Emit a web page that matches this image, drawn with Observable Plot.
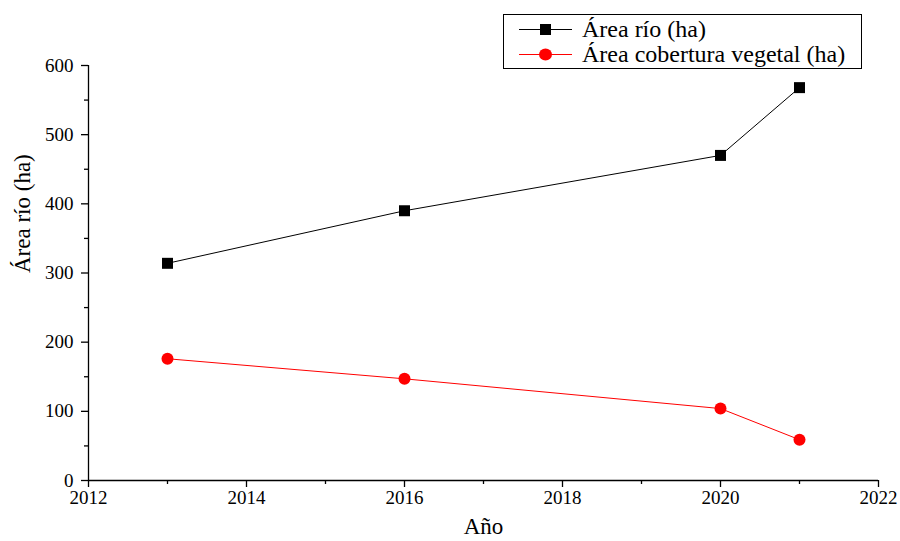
<!DOCTYPE html>
<html><head><meta charset="utf-8">
<script src="https://cdn.jsdelivr.net/npm/d3@7"></script>
<script src="https://cdn.jsdelivr.net/npm/@observablehq/plot@0.6"></script>
<style>
body{margin:0;background:#fff;}
#wrap{position:relative;width:900px;height:541px;font-family:"Liberation Serif","Times New Roman",serif;}
#legend{position:absolute;left:503px;top:14px;width:359px;height:55px;border:1px solid #000;box-sizing:border-box;background:#fff;font-size:24px;color:#000;font-family:"Liberation Serif","Times New Roman",serif;}
#legend .row{position:absolute;left:0;height:25px;display:flex;align-items:center;white-space:nowrap;}
#legend svg{margin-left:15px;margin-right:10px;}
</style></head>
<body>
<div id="wrap"><div id="legend"></div></div>
<script>
const years = [2013, 2016, 2020, 2021];
const rio = [314, 390, 470, 568];
const vegetal = [176, 147, 104, 59];
const seriesNames = ["Área río (ha)", "Área cobertura vegetal (ha)"];
const seriesColors = ["#000000", "#ff0000"];
const xMajor = [2012, 2014, 2016, 2018, 2020, 2022];
const xMinor = [2013, 2015, 2017, 2019, 2021];
const yMajor = [0, 100, 200, 300, 400, 500, 600];
const yMinor = [50, 150, 250, 350, 450, 550];

const dataRio = years.map((y, i) => ({year: y, value: rio[i]}));
const dataVeg = years.map((y, i) => ({year: y, value: vegetal[i]}));
const serif = "Liberation Serif";

const chart = Plot.plot({
  width: 900,
  height: 541,
  marginLeft: 88,
  marginRight: 22,
  marginTop: 65,
  marginBottom: 61,
  style: {fontFamily: serif, background: "#fff", color: "#000"},
  x: {domain: [2012, 2022]},
  y: {domain: [0, 600]},
  marks: [
    Plot.axisX({ticks: xMajor, tickSize: 7, tickFormat: () => "", label: null, strokeWidth: 1.3}),
    Plot.axisX({ticks: xMinor, tickSize: 4, tickFormat: () => "", label: null, strokeWidth: 1.3}),
    Plot.axisY({ticks: yMajor, tickSize: 7, tickFormat: () => "", label: null, strokeWidth: 1.3}),
    Plot.axisY({ticks: yMinor, tickSize: 4, tickFormat: () => "", label: null, strokeWidth: 1.3}),
    Plot.text(xMajor, {x: d => d, text: d => String(d), frameAnchor: "bottom", dy: 23, fontSize: 19, fontFamily: serif, fill: "#000"}),
    Plot.text(yMajor, {y: d => d, text: d => String(d), frameAnchor: "left", dx: -15, textAnchor: "end", fontSize: 19, fontFamily: serif, fill: "#000"}),
    Plot.ruleY([0], {stroke: "#000", strokeWidth: 1.3}),
    Plot.ruleX([2012], {stroke: "#000", strokeWidth: 1.3}),
    Plot.text(["Año"], {frameAnchor: "bottom", dy: 53, fontSize: 23, fontFamily: serif, fill: "#000"}),
    Plot.text(["Área río (ha)"], {frameAnchor: "left", dx: -66, rotate: -90, fontSize: 23, fontFamily: serif, fill: "#000"}),
    Plot.line(dataRio, {x: "year", y: "value", stroke: seriesColors[0], strokeWidth: 1}),
    Plot.dot(dataRio, {x: "year", y: "value", symbol: "square", r: 6.2, fill: seriesColors[0], stroke: "none"}),
    Plot.line(dataVeg, {x: "year", y: "value", stroke: seriesColors[1], strokeWidth: 1}),
    Plot.dot(dataVeg, {x: "year", y: "value", symbol: "circle", r: 6, fill: seriesColors[1], stroke: "none"})
  ]
});
document.getElementById("wrap").prepend(chart);

const legend = document.getElementById("legend");
seriesNames.forEach((name, i) => {
  const row = document.createElement("div");
  row.className = "row";
  row.style.top = (2 + i * 25) + "px";
  const marker = i === 0
    ? '<rect x="21" y="5" width="11" height="11" fill="#000"/>'
    : '<ellipse cx="26.5" cy="10.5" rx="6.5" ry="6" fill="#f00"/>';
  row.innerHTML = '<svg width="53" height="21"><line x1="0" x2="53" y1="10.5" y2="10.5" stroke="' + seriesColors[i] + '" stroke-width="1"/>' + marker + '</svg><span>' + name + '</span>';
  legend.appendChild(row);
});
</script>
</body></html>
